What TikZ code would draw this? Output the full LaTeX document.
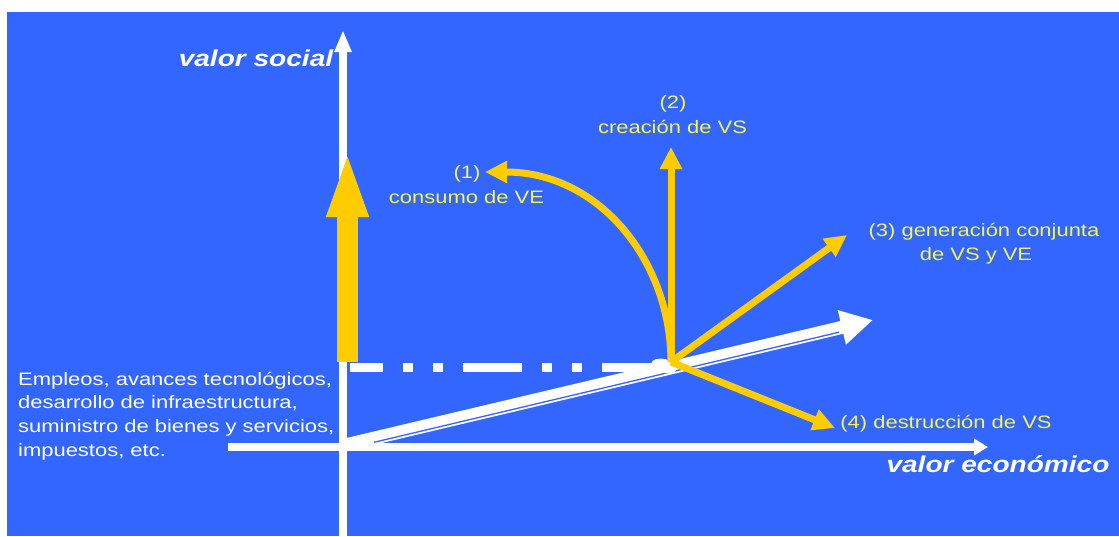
\documentclass[tikz,border=0pt]{standalone}
\usepackage{fontspec}
\setmainfont{Liberation Sans}
\newfontfamily\labfont[FakeStretch=1.22]{Liberation Sans}
\usetikzlibrary{arrows.meta}
\definecolor{bg}{RGB}{51,102,255}
\definecolor{ygold}{RGB}{255,204,0}
\definecolor{ytext}{RGB}{245,245,80}
\tikzset{
  lab/.style={font=\labfont\fontsize{18}{22}\selectfont, inner sep=0pt, anchor=base},
  ylab/.style={lab, text=ytext},
  wlab/.style={lab, text=white, anchor=base west},
  axlab/.style={font=\labfont\bfseries\itshape\fontsize{23}{26}\selectfont, text=white, inner sep=0pt, anchor=base},
  axisline/.style={draw=white, line width=8pt},
  yarr/.style={draw=ygold, line width=7pt, -{Triangle[length=22pt,width=21pt]}},
  dashdot/.style={draw=white, line width=9pt, dash pattern=on 59pt off 20pt on 10pt off 20pt on 10pt off 20pt, dash phase=26pt}
}
\begin{document}
\begin{tikzpicture}[x=1pt,y=-1pt]
\useasboundingbox (0,0) rectangle (1119,536);
\fill[white] (0,0) rectangle (1119,536);
\fill[bg] (7,12) rectangle (1119,536);

% coordinates
\coordinate (vb) at (343,536);
\coordinate (vt) at (343,30);
\coordinate (hl) at (228,447);
\coordinate (hr) at (988,447);
\coordinate (da) at (345,445);
\coordinate (db) at (873,320);
\coordinate (ia) at (373.9,442.3);
\coordinate (ib) at (838.9,332.2);
\coordinate (d0) at (350,367.5);
\coordinate (d1) at (661,367.5);
\coordinate (yb) at (347.5,362);
\coordinate (yt) at (347.5,150);
\coordinate (O) at (671,362);
\coordinate (t1) at (485,172);
\coordinate (t2) at (671,147);
\coordinate (t3) at (847,235);
\coordinate (t4) at (835,428);

% axes
\draw[axisline, -{Triangle[length=14pt,width=16pt]}] (hl) -- (hr);
\draw[axisline, -{Triangle[length=22pt,width=16pt]}] (vb) -- (vt);

% double white arrow
\draw[draw=white, line width=13pt, -{Triangle[length=32pt,width=33pt]}] (da) -- (db);
\draw[draw=bg, line width=1.3pt] (ia) -- (ib);

% dash-dot line
\draw[dashdot] (d0) -- (d1);
\fill[white, rotate around={-13:(664,366)}] (664,366) ellipse [x radius=13, y radius=7];

% yellow arrows
\draw[yarr] (O) .. controls (671,262) and (600,172) .. (t1);
\draw[yarr] (O) -- (t2);
\draw[yarr] (O) -- (t3);
\draw[yarr] (O) -- (t4);

% big yellow arrow
\draw[draw=ygold, line width=21pt, -{Triangle[length=67pt,width=37pt]}] (yb) -- (yt);

% labels
\node[axlab] (vs) at (256,66) {valor social};
\node[axlab] (ve) at (998,472) {valor económico};
\node[wlab] (e1) at (18,385) {Empleos, avances tecnológicos,};
\node[wlab] (e2) at (18,408) {desarrollo de infraestructura,};
\node[wlab] (e3) at (18,432) {suministro de bienes y servicios,};
\node[wlab] (e4) at (18,456) {impuestos, etc.};
\node[ylab] (l1a) at (467,178) {(1)};
\node[ylab] (l1b) at (466.5,203) {consumo de VE};
\node[ylab] (l2a) at (673,108) {(2)};
\node[ylab] (l2b) at (672.5,133) {creación de VS};
\node[ylab] (l3a) at (984,236) {(3) generación conjunta};
\node[ylab] (l3b) at (976,260) {de VS y VE};
\node[ylab] (l4) at (946,428) {(4) destrucción de VS};
\end{tikzpicture}
\end{document}
